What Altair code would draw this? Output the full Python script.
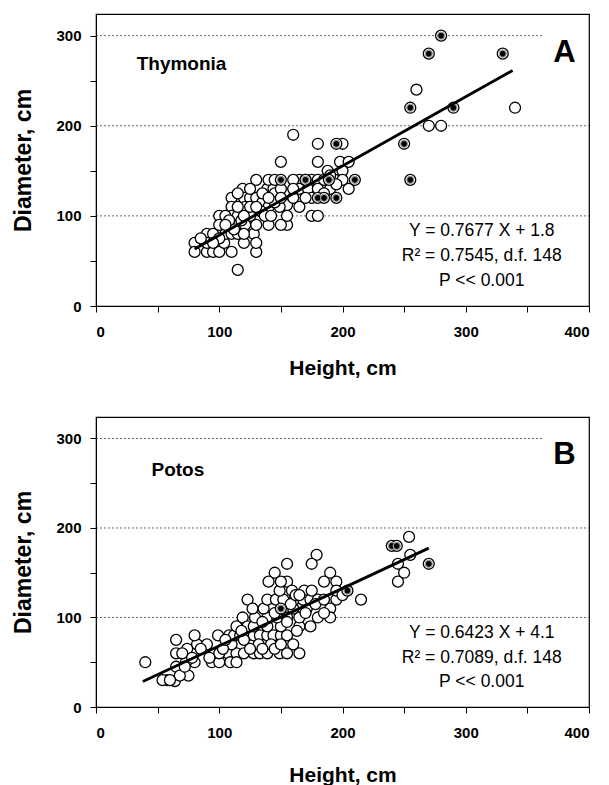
import altair as alt
import pandas as pd

# ---------------- Panel A: Thymonia ----------------
a_open = [(260,240),(340,220),(270,200),(280,200),(160,190),(180,180),(200,180),(150,160),(180,160),(198,160),
          (205,160),(200,150),(188,150),(205,130),(175,100),(180,100),(155,90),(150,90),(140,90),(128,80),
          (115,40),(80,70),(80,60),(90,60),(95,60),(100,60),(110,60),(130,60),(90,80),(95,80),(100,100),
          (100,90),(130,70),(120,70),(104,70),(130,140),(110,120),(119,130),(139,130),(144,130),(120,120),
          (125,120),(130,120),(135,115),(147,120),(153,125),(155,112),(149,110),(140,110),(134,105),(110,110),
          (121,110),(110,100),(115,100),(125,100),(137,100),(142,100),(155,100),(111,90),(121,90),(130,90),
          (105,80),(110,80),(115,80),(120,80),(90,70),(165,140),(175,140),(180,140),(194,140),(200,140),
          (165,130),(172,130),(175,120),(165,110),(160,120),(160,140),(140,140),(145,125),(150,130),(115,125),
          (105,100),(112,85),(125,110),(118,95),(100,75),(85,75),(95,70),(108,95),(135,125),(145,115),
          (160,130),(170,120),(185,140),(190,130),(150,120),(140,120),(130,110),(120,100),(125,130),(115,110),
          (105,90),(145,140),(170,140),(180,130),(190,145),(195,135),(185,125)]
a_fill = [(280,300),(270,280),(330,280),(255,220),(290,220),(250,180),(255,140),(195,180),(150,140),
          (170,140),(189,140),(210,140),(180,120),(185,120),(195,120)]
a_slope, a_icpt = 0.7677, 1.8
a_xrange = [80, 338]
a_eq = ["Y = 0.7677 X + 1.8", "R² = 0.7545, d.f. 148", "P << 0.001"]

# ---------------- Panel B: Potos ----------------
b_open = [(40,50),(254,190),(255,170),(245,160),(250,150),(245,140),(215,120),(179,170),(175,160),(155,160),
          (145,150),(190,150),(195,140),(185,140),(140,140),(155,140),(159,130),(169,130),(123,120),(195,120),
          (190,110),(190,100),(180,100),(119,100),(174,90),(165,90),
          (107,60),(114,60),(120,60),(128,60),(133,60),(139,60),(149,60),(155,60),(165,60),
          (94,50),(100,50),(109,50),(114,50),(80,50),(73,50),
          (82,70),(90,70),(110,70),
          (80,80),(99,80),(108,80),(112,80),(117,80),(123,80),(128,80),(133,80),(139,80),(144,80),(150,80),(155,80),
          (114,90),(123,90),(128,90),(139,90),(150,90),
          (129,100),(139,100),(147,100),(155,100),(165,100),
          (127,110),(136,110),(160,110),(171,110),
          (139,120),(146,120),(152,120),(161,120),(168,120),(174,120),(180,120),
          (149,130),
          (65,75),(65,60),(65,45),(64,29),(58,30),(54,30),(75,35),(68,35),(74,65),(70,60),(78,55),(85,65),
          (100,60),(103,65),(92,55),(60,30),(72,45),(120,75),(132,70),(142,70),(105,75),(125,65),(135,65),
          (145,65),(160,70),(150,70),(118,85),(170,105),(178,115),(185,120),(158,115),(162,125),(145,105),
          (135,95),(155,95),(163,85),(185,105),(195,130),(200,125),(175,130),(150,140),(165,125)]
b_fill = [(240,180),(244,180),(270,160),(204,130),(150,110)]
b_slope, b_icpt = 0.6423, 4.1
b_xrange = [38, 270]
b_eq = ["Y = 0.6423 X + 4.1", "R² = 0.7089, d.f. 148", "P << 0.001"]

FONT = "Liberation Sans"
XDOM = [0, 400]
YDOM = [0, 324]


def panel(opens, fills, slope, icpt, xr, eq, species, letter, h, xtitle_pad, sp_x, sp_y):
    d_open = pd.DataFrame(opens, columns=["x", "y"])
    d_fill = pd.DataFrame(fills, columns=["x", "y"])
    d_line = pd.DataFrame({"x": xr, "y": [slope * v + icpt for v in xr]})
    d_grid = pd.DataFrame({"y": [100, 200, 300], "x1": [0, 0, 0], "x2": [400, 400, 362]})

    xs = alt.Scale(domain=XDOM, nice=False, zero=False)
    ys = alt.Scale(domain=YDOM, nice=False, zero=False)
    common = dict(grid=False, domainColor="black", tickColor="black", tickSize=6,
                  labelFont=FONT, labelFontSize=15, labelFontWeight="bold", labelColor="black",
                  titleFont=FONT, titleFontWeight="bold", titleColor="black")
    xax = alt.Axis(values=list(range(0, 401, 50)), labelExpr="datum.value % 100 == 0 ? datum.label : ''",
                   title="Height, cm", titlePadding=xtitle_pad, labelPadding=12, titleFontSize=21, **common)
    yax = alt.Axis(values=list(range(0, 301, 50)), labelExpr="datum.value % 100 == 0 ? datum.label : ''",
                   title="Diameter, cm", titlePadding=20, labelPadding=9, titleFontSize=23, **common)

    grid = alt.Chart(d_grid).mark_rule(color="#444", strokeWidth=0.8, strokeDash=[2, 2]).encode(
        x=alt.X("x1:Q", scale=xs, axis=xax), x2="x2:Q", y=alt.Y("y:Q", scale=ys, axis=yax))
    pts_open = alt.Chart(d_open).mark_point(shape="circle", filled=False, fill="white", fillOpacity=1,
                                            stroke="black", strokeWidth=1.3, size=120, opacity=1).encode(
        x=alt.X("x:Q", scale=xs), y=alt.Y("y:Q", scale=ys))
    pts_fo = alt.Chart(d_fill).mark_point(shape="circle", filled=False, fill="white", fillOpacity=1,
                                          stroke="black", strokeWidth=1.3, size=120, opacity=1).encode(
        x=alt.X("x:Q", scale=xs), y=alt.Y("y:Q", scale=ys))
    pts_fi = alt.Chart(d_fill).mark_point(shape="circle", filled=True, fill="black", stroke="#999",
                                          strokeWidth=1.2, size=48, opacity=1).encode(
        x=alt.X("x:Q", scale=xs), y=alt.Y("y:Q", scale=ys))
    line = alt.Chart(d_line).mark_line(color="black", strokeWidth=2.8).encode(
        x=alt.X("x:Q", scale=xs), y=alt.Y("y:Q", scale=ys))
    d_eq = pd.DataFrame({"t": eq, "y": [83, 55, 28]})
    eqt = alt.Chart(d_eq).mark_text(font=FONT, fontSize=17.5, color="black", align="center",
                                    baseline="middle").encode(
        x=alt.datum(313), y=alt.Y("y:Q", scale=ys), text="t:N")
    sp = alt.Chart(pd.DataFrame({"t": [species]})).mark_text(font=FONT, fontSize=19, fontWeight="bold",
                                                             align="left", baseline="middle").encode(
        x=alt.datum(sp_x), y=alt.datum(sp_y), text="t:N")
    let = alt.Chart(pd.DataFrame({"t": [letter]})).mark_text(font=FONT, fontSize=31, fontWeight="bold",
                                                             align="center", baseline="middle").encode(
        x=alt.datum(380), y=alt.datum(281), text="t:N")
    return alt.layer(grid, pts_open, pts_fo, pts_fi, line, eqt, sp, let).properties(width=493, height=h)


pa = panel(a_open, a_fill, a_slope, a_icpt, a_xrange, a_eq, "Thymonia", "A", 292, 18, 33, 269)
pb = panel(b_open, b_fill, b_slope, b_icpt, b_xrange, b_eq, "Potos", "B", 290, 24, 45, 265)

chart = alt.vconcat(pa, pb, spacing=37).properties(
    padding={"left": 12, "top": 13, "right": 5, "bottom": 2}, background="white"
).configure_view(stroke="black", strokeWidth=1.2)

chart.save("out.html", embed_options={"renderer": "svg", "actions": False})
